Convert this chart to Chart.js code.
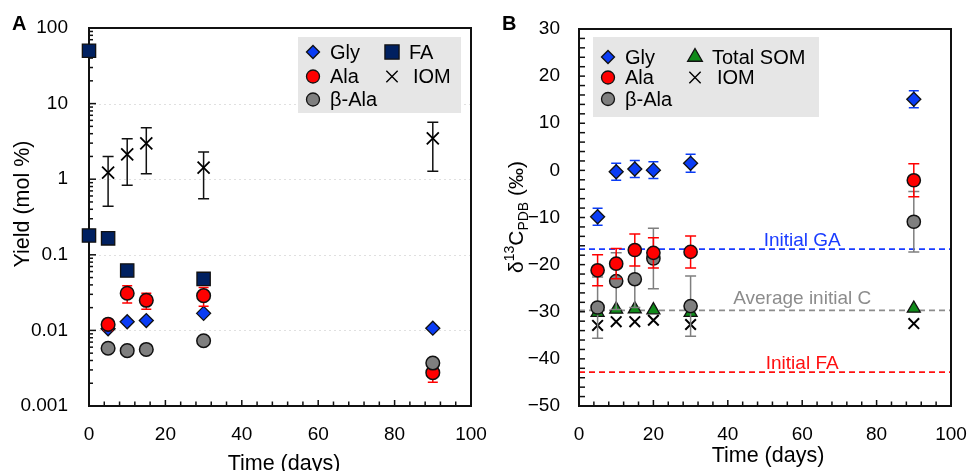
<!DOCTYPE html>
<html><head><meta charset="utf-8">
<script src="https://cdn.jsdelivr.net/npm/chart.js@4.4.1/dist/chart.umd.min.js"></script>
<style>
html,body{margin:0;padding:0;background:#fff;}
#wrap{position:relative;width:971px;height:471px;overflow:hidden;background:#fff;}
canvas{position:absolute;top:0;}
#ca{left:0;} #cb{left:485px;}
</style></head><body>
<div id="wrap"><canvas id="ca" width="505" height="471"></canvas><canvas id="cb" width="486" height="471"></canvas></div>
<script>
// ---------- Panel A data (yield, mol %) ----------
const faDays = [0, 0, 5, 10, 30];
const faYield = [50, 0.18, 0.165, 0.062, 0.048];
const aaDaysA = [5, 10, 15, 30, 90];
const glyYield = [0.0105, 0.013, 0.0135, 0.0168, 0.0107];
const alaYield = [0.012, 0.031, 0.025, 0.0288, 0.00276];
const alaYieldErr = [0.002, 0.008, 0.006, 0.008, 0.0007];
const bAlaYield = [0.0058, 0.0054, 0.0056, 0.0073, 0.0037];
const iomYield = [1.22, 2.13, 2.98, 1.42, 3.47];
const iomYieldErr = [0.78, 1.3, 1.8, 0.87, 2.2];
const yTicksA = [0.001, 0.01, 0.1, 1, 10, 100];
const yTickLabelsA = ['0.001', '0.01', '0.1', '1', '10', '100'];

// ---------- Panel B data (δ13C, ‰) ----------
const daysB = [5, 10, 15, 20, 30, 90];
const glyD13 = [-9.85, -0.3, 0.3, 0.05, 1.5, 15.1];
const glyD13Err = [1.8, 1.8, 1.8, 1.8, 1.9, 1.8];
const alaD13 = [-21.2, -19.8, -16.9, -17.5, -17.3, -2.1];
const alaD13Err = [3.3, 3.2, 3.4, 3.2, 3.4, 3.5];
const bAlaD13 = [-29.1, -23.5, -23.1, -18.7, -28.8, -10.9];
const bAlaD13Err = [6.5, 6, 6, 6.4, 6.4, 6.4];
const somD13 = [-30.2, -29.5, -29.45, -29.65, -30.2, -29.3];
const iomD13 = [-32.9, -32.1, -32.1, -31.8, -32.7, -32.5];
const refD13 = [-16.7, -29.7, -42.8];
const refLabels = ['Initial GA', 'Average initial C', 'Initial FA'];
const yTicksB = [-50, -40, -30, -20, -10, 0, 10, 20, 30];
const yTickLabelsB = ['\u221250', '\u221240', '\u221230', '\u221220', '\u221210', '0', '10', '20', '30'];
const xTicks = [0, 20, 40, 60, 80, 100];
const xTickLabels = ['0', '20', '40', '60', '80', '100'];

const FONT = "'Liberation Sans', Arial, Helvetica, sans-serif";
const C = {gly:'#0a3cf5', ala:'#ff0000', bala:'#7f7f7f', fa:'#002060', som:'#108a1a', iom:'#000000', edge:'#111111'};

function pts(xs, ys){ return xs.map((x,i)=>({x:x, y:ys[i]})); }

function marker(ctx, style, x, y, r, fill, stroke, lw){
  ctx.save(); ctx.fillStyle = fill; ctx.strokeStyle = stroke; ctx.lineWidth = lw || 1.3;
  ctx.beginPath();
  if (style === 'circle') ctx.arc(x, y, r, 0, Math.PI*2);
  else if (style === 'rectRot') { ctx.moveTo(x-r,y); ctx.lineTo(x,y-r); ctx.lineTo(x+r,y); ctx.lineTo(x,y+r); ctx.closePath(); }
  else if (style === 'rect') { const s = r*Math.SQRT1_2; ctx.rect(x-s, y-s, 2*s, 2*s); }
  else if (style === 'triangle') { for (let k=0;k<3;k++){ const a = -Math.PI/2 + k*2*Math.PI/3; const px = x+Math.cos(a)*r, py = y+Math.sin(a)*r; if(k===0) ctx.moveTo(px,py); else ctx.lineTo(px,py);} ctx.closePath(); }
  else if (style === 'crossRot') { const s = r*Math.SQRT1_2; ctx.moveTo(x-s,y-s); ctx.lineTo(x+s,y+s); ctx.moveTo(x+s,y-s); ctx.lineTo(x-s,y+s); }
  if (style !== 'crossRot') ctx.fill();
  ctx.stroke(); ctx.restore();
}

const errPlugin = {
  id: 'errbars',
  beforeDatasetDraw(chart, args){
    const ds = chart.data.datasets[args.index];
    if (!ds.err) return;
    const ctx = chart.ctx, xs = chart.scales.x, ys = chart.scales.y;
    const cap = ds.errCap || 5;
    ctx.save(); ctx.strokeStyle = ds.errColor; ctx.lineWidth = 1.5;
    ds.data.forEach((p,i)=>{
      const e = ds.err[i]; if (!e) return;
      const x = xs.getPixelForValue(p.x);
      let lo = p.y - e; const hi = p.y + e;
      if (ys.type === 'logarithmic' && lo <= 0) lo = ys.min;
      const y1 = ys.getPixelForValue(hi), y2 = ys.getPixelForValue(lo);
      ctx.beginPath();
      ctx.moveTo(x, y1); ctx.lineTo(x, y2);
      ctx.moveTo(x-cap, y1); ctx.lineTo(x+cap, y1);
      ctx.moveTo(x-cap, y2); ctx.lineTo(x+cap, y2);
      ctx.stroke();
    });
    ctx.restore();
  }
};

const framePlugin = {
  id: 'frame',
  beforeDatasetsDraw(chart, args, o){
    const ctx = chart.ctx, a = chart.chartArea, xs = chart.scales.x, ys = chart.scales.y;
    ctx.save();
    if (o.grid) {
      ctx.strokeStyle = '#e0e0e0'; ctx.lineWidth = 1; ctx.setLineDash([2,3]);
      o.grid.forEach(v=>{ const y = Math.round(ys.getPixelForValue(v))+0.5; ctx.beginPath(); ctx.moveTo(a.left, y); ctx.lineTo(a.right, y); ctx.stroke(); });
      ctx.setLineDash([]);
    }
    if (o.refs) {
      o.refs.forEach(r=>{
        const y = ys.getPixelForValue(r.v);
        ctx.strokeStyle = r.color; ctx.lineWidth = 1.8; ctx.setLineDash([6,4]);
        ctx.beginPath(); ctx.moveTo(a.left, y); ctx.lineTo(a.right, y); ctx.stroke();
        ctx.setLineDash([]);
        ctx.fillStyle = r.color; ctx.font = '19px ' + FONT; ctx.textAlign = 'center'; ctx.textBaseline = 'alphabetic';
        ctx.fillText(r.label, xs.getPixelForValue(r.lx), y - r.off);
      });
    }
    ctx.strokeStyle = '#111'; ctx.lineWidth = 1.5;
    o.xt.forEach(t=>{ const x = xs.getPixelForValue(t.v); ctx.beginPath(); ctx.moveTo(x, a.bottom); ctx.lineTo(x, a.bottom - t.len); ctx.stroke(); });
    o.yt.forEach(t=>{ const y = ys.getPixelForValue(t.v); ctx.beginPath(); ctx.moveTo(a.left, y); ctx.lineTo(a.left + t.len, y); ctx.stroke(); });
    ctx.lineWidth = 2; ctx.strokeStyle = '#111';
    ctx.strokeRect(a.left, a.top, a.right - a.left, a.bottom - a.top);
    ctx.restore();
  },
  afterDraw(chart, args, o){
    const ctx = chart.ctx;
    ctx.save();
    ctx.fillStyle = '#000';
    ctx.font = 'bold 20px ' + FONT; ctx.textAlign = 'left'; ctx.textBaseline = 'alphabetic';
    ctx.fillText(o.letter, o.letterX, 30);
    ctx.font = '21.5px ' + FONT; ctx.textAlign = 'center';
    ctx.fillText('Time (days)', o.xTitleX, o.xTitleY);
    ctx.translate(o.yTitleX, o.yTitleY); ctx.rotate(-Math.PI/2);
    let total = 0; o.yTitle.forEach(p=>{ ctx.font = p.f; p.w = ctx.measureText(p.t).width; total += p.w; });
    let x = -total/2; ctx.textAlign = 'left';
    o.yTitle.forEach(p=>{ ctx.font = p.f; ctx.fillText(p.t, x, p.dy); x += p.w; });
    ctx.restore();
    const L = o.legend;
    ctx.save();
    ctx.fillStyle = '#e6e6e6'; ctx.fillRect(L.x, L.y, L.w, L.h);
    ctx.font = '20px ' + FONT; ctx.textBaseline = 'middle'; ctx.textAlign = 'left';
    L.items.forEach(it=>{
      const ds = chart.data.datasets[it.ds];
      const mx = L.cols[it.c], my = L.rows[it.r];
      if (ds.pointStyle === 'crossRot') marker(ctx, 'crossRot', mx, my, 8, ds.borderColor, ds.borderColor, 1.4);
      else marker(ctx, ds.pointStyle, mx, my, it.size, ds.backgroundColor, '#111', 1.3);
      ctx.fillStyle = '#000';
      ctx.fillText(ds.label, mx + L.tx + (it.dx||0), my + 1);
    });
    ctx.restore();
  }
};

function xTickMarks(){ const t=[]; for(let v=0; v<=100; v+=4) t.push({v:v, len:(v%20===0)?6:4.5}); return t; }
function logTickMarks(){ const t=[]; for (let e=-3; e<=2; e++){ const d = Math.pow(10,e); t.push({v:d, len:7}); if (e<2) for(let k=2;k<=9;k++) t.push({v:k*d, len:4}); } return t; }
function linTickMarks(){ const t=[]; for(let v=-50; v<=30; v+=2) t.push({v:v, len:6}); return t; }

function baseScales(yType, yMin, yMax, yTicks, yLabels, yWidth, yPad){
  return {
    x: { type:'linear', min:0, max:100, afterBuildTicks: s=>{ s.ticks = xTicks.map(v=>({value:v})); },
         ticks:{ callback:(v)=>{ const i = xTicks.indexOf(v); return i>=0 ? xTickLabels[i] : ''; }, font:{family:FONT, size:19}, color:'#000', padding:17, maxRotation:0, autoSkip:false },
         grid:{ display:false, drawTicks:false }, border:{display:false},
         afterFit: s=>{ s.height = 65; s.paddingLeft = 0; s.paddingRight = 0; } },
    y: { type:yType, min:yMin, max:yMax, afterBuildTicks: s=>{ s.ticks = yTicks.map(v=>({value:v, major:true})); },
         ticks:{ callback:(v)=>{ const i = yTicks.findIndex(t=>Math.abs(t-v) < Math.abs(t)*1e-6 + 1e-9); return i>=0 ? yLabels[i] : ''; }, font:{family:FONT, size:19}, color:'#000', padding:yPad, autoSkip:false },
         grid:{ display:false, drawTicks:false }, border:{display:false},
         afterFit: s=>{ s.width = yWidth; s.paddingTop = 0; s.paddingBottom = 0; } }
  };
}

// ---------- Chart A ----------
new Chart(document.getElementById('ca'), {
  type:'scatter',
  data:{ datasets:[
    { label:'\u03b2-Ala', data:pts(aaDaysA, bAlaYield), pointStyle:'circle', pointRadius:6.8, backgroundColor:C.bala, borderColor:C.edge, borderWidth:1.5 },
    { label:'Ala', data:pts(aaDaysA, alaYield), pointStyle:'circle', pointRadius:6.8, backgroundColor:C.ala, borderColor:C.edge, borderWidth:1.5, err:alaYieldErr, errColor:C.ala, errCap:5 },
    { label:'Gly', data:pts(aaDaysA, glyYield), pointStyle:'rectRot', pointRadius:7, backgroundColor:C.gly, borderColor:C.edge, borderWidth:1.3 },
    { label:'FA', data:pts(faDays, faYield), pointStyle:'rect', pointRadius:9.4, backgroundColor:C.fa, borderColor:C.edge, borderWidth:1.3 },
    { label:'IOM', data:pts(aaDaysA, iomYield), pointStyle:'crossRot', pointRadius:8.5, backgroundColor:C.iom, borderColor:C.iom, borderWidth:1.8, err:iomYieldErr, errColor:'#111', errCap:5.5 }
  ]},
  options:{
    responsive:false, animation:false, clip:false,
    layout:{ padding:{ left:0, right:34, top:28, bottom:0 } },
    scales: baseScales('logarithmic', 0.001, 100, yTicksA, yTickLabelsA, 89, 21),
    plugins:{ legend:{display:false}, tooltip:{enabled:false},
      frame:{ letter:'A', letterX:12, xTitleX:284, xTitleY:470, yTitleX:28.5, yTitleY:204,
        yTitle:[{t:'Yield (mol %)', f:'21.5px '+FONT, dy:0}],
        grid:[0.01, 0.1, 1, 10],
        xt: xTickMarks(), yt: logTickMarks(),
        legend:{ x:298, y:37, w:163, h:76, cols:[313, 392], rows:[52, 76.5, 99.5], tx:17,
          items:[ {ds:2,c:0,r:0,size:6.5}, {ds:1,c:0,r:1,size:6.5}, {ds:0,c:0,r:2,size:6.5}, {ds:3,c:1,r:0,size:10}, {ds:4,c:1,r:1,dx:4} ] } } }
  },
  plugins:[errPlugin, framePlugin]
});

// ---------- Chart B ----------
new Chart(document.getElementById('cb'), {
  type:'scatter',
  data:{ datasets:[
    { label:'Gly', data:pts(daysB, glyD13), pointStyle:'rectRot', pointRadius:7, backgroundColor:C.gly, borderColor:C.edge, borderWidth:1.3, err:glyD13Err, errColor:C.gly, errCap:5 },
    { label:'Ala', data:pts(daysB, alaD13), pointStyle:'circle', pointRadius:6.6, backgroundColor:C.ala, borderColor:C.edge, borderWidth:1.5, err:alaD13Err, errColor:C.ala, errCap:5.5 },
    { label:'\u03b2-Ala', data:pts(daysB, bAlaD13), pointStyle:'circle', pointRadius:6.6, backgroundColor:C.bala, borderColor:C.edge, borderWidth:1.5, err:bAlaD13Err, errColor:'#7f7f7f', errCap:5.5 },
    { label:'Total SOM', data:pts(daysB, somD13), pointStyle:'triangle', pointRadius:7.5, backgroundColor:C.som, borderColor:C.edge, borderWidth:1.3 },
    { label:'IOM', data:pts(daysB, iomD13), pointStyle:'crossRot', pointRadius:7.5, backgroundColor:C.iom, borderColor:C.iom, borderWidth:2 }
  ]},
  options:{
    responsive:false, animation:false, clip:false,
    layout:{ padding:{ left:0, right:20, top:29, bottom:0 } },
    scales: baseScales('linear', -50, 30, yTicksB, yTickLabelsB, 94, 19),
    plugins:{ legend:{display:false}, tooltip:{enabled:false},
      frame:{ letter:'B', letterX:17, xTitleX:283, xTitleY:462, yTitleX:38, yTitleY:217,
        yTitle:[{t:'\u03b4', f:'21px '+FONT, dy:0}, {t:'13', f:'14px '+FONT, dy:-9}, {t:'C', f:'21px '+FONT, dy:0}, {t:'PDB', f:'14px '+FONT, dy:5}, {t:' (\u2030)', f:'21px '+FONT, dy:0}],
        refs: refD13.map((v,i)=>({ v:v, label:refLabels[i], color:['#1a3cff','#8c8c8c','#ff1010'][i], lx:60, off:[3,6,3][i] })),
        xt: xTickMarks(), yt: linTickMarks(),
        legend:{ x:108, y:37, w:226, h:80, cols:[123, 210], rows:[57, 77.5, 99], tx:17,
          items:[ {ds:0,c:0,r:0,size:6.5}, {ds:1,c:0,r:1,size:6.5}, {ds:2,c:0,r:2,size:6.5}, {ds:3,c:1,r:0,size:8.5}, {ds:4,c:1,r:1,dx:5} ] } } }
  },
  plugins:[errPlugin, framePlugin]
});
</script>
</body></html>
